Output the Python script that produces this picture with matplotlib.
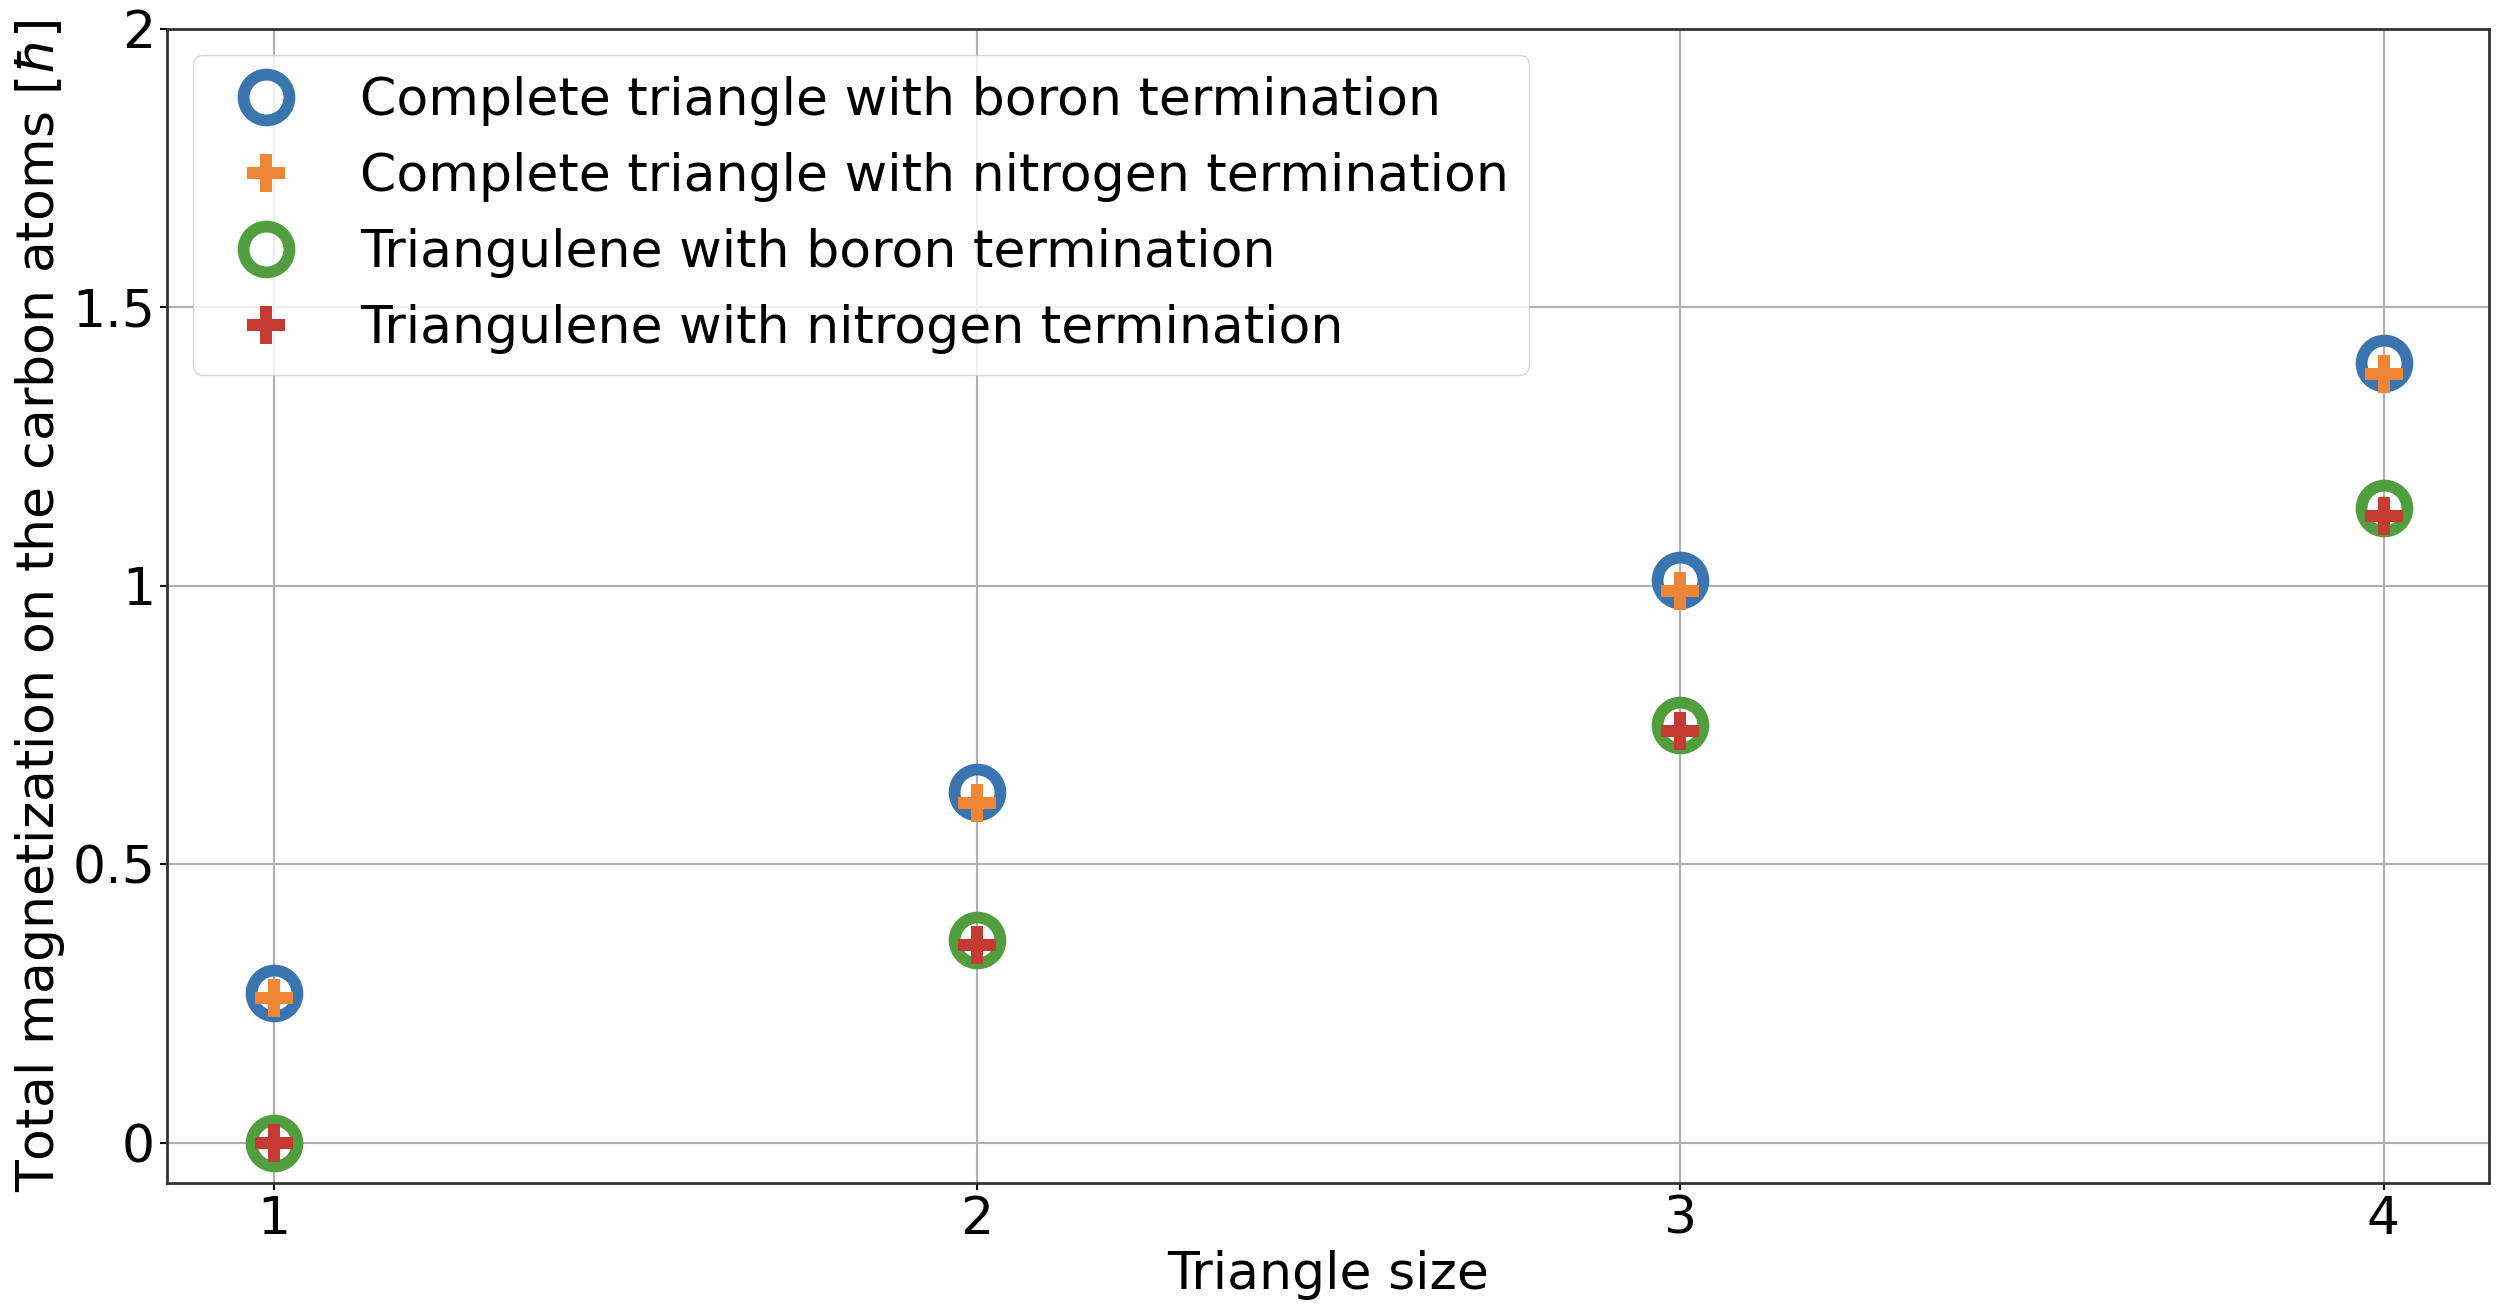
import matplotlib
matplotlib.use('Agg')
import matplotlib.pyplot as plt

# Triangle sizes and total magnetization values
sizes = [1, 2, 3, 4]
complete_boron = [0.27, 0.63, 1.01, 1.40]
complete_nitrogen = [0.26, 0.61, 0.99, 1.38]
triangulene_boron = [0.0, 0.365, 0.75, 1.14]
triangulene_nitrogen = [0.0, 0.355, 0.74, 1.125]

y_ticks = [0, 0.5, 1, 1.5, 2]
y_tick_labels = ['0', '0.5', '1', '1.5', '2']

plt.rcParams['font.family'] = ['DejaVu Sans']
plt.rcParams['font.size'] = 37.5

fig = plt.figure(figsize=(25, 13.13), dpi=100)
ax = fig.add_axes([0.0668, 0.099, 0.9288, 0.879])

circle_kw = dict(linestyle='none', marker='o', markersize=33,
                 markerfacecolor='none', markeredgewidth=8.5)
plus_kw = dict(linestyle='none', marker='P', markersize=27, markeredgewidth=0)

ax.plot(sizes, complete_boron, color='#3a75b0',
        label='Complete triangle with boron termination', **circle_kw)
ax.plot(sizes, complete_nitrogen, color='#ef8636',
        label='Complete triangle with nitrogen termination', **plus_kw)
ax.plot(sizes, triangulene_boron, color='#519e3e',
        label='Triangulene with boron termination', **circle_kw)
ax.plot(sizes, triangulene_nitrogen, color='#c53a32',
        label='Triangulene with nitrogen termination', **plus_kw)

ax.set_xlim(0.848, 4.15)
ax.set_ylim(-0.072, 2.0)
ax.set_xticks(sizes)
ax.set_yticks(y_ticks)
ax.set_yticklabels(y_tick_labels)

ax.set_xlabel('Triangle size')
ax.set_ylabel(r'Total magnetization on the carbon atoms [$\hbar$]')

ax.grid(True, color='#b0b0b0', linewidth=1.5)
ax.set_axisbelow(True)
ax.tick_params(length=5, width=1.5)
for spine in ax.spines.values():
    spine.set_linewidth(2)
    spine.set_color('#333333')

ax.legend(loc='upper left', fontsize=37.5)

fig.savefig('out.png', dpi=100)
